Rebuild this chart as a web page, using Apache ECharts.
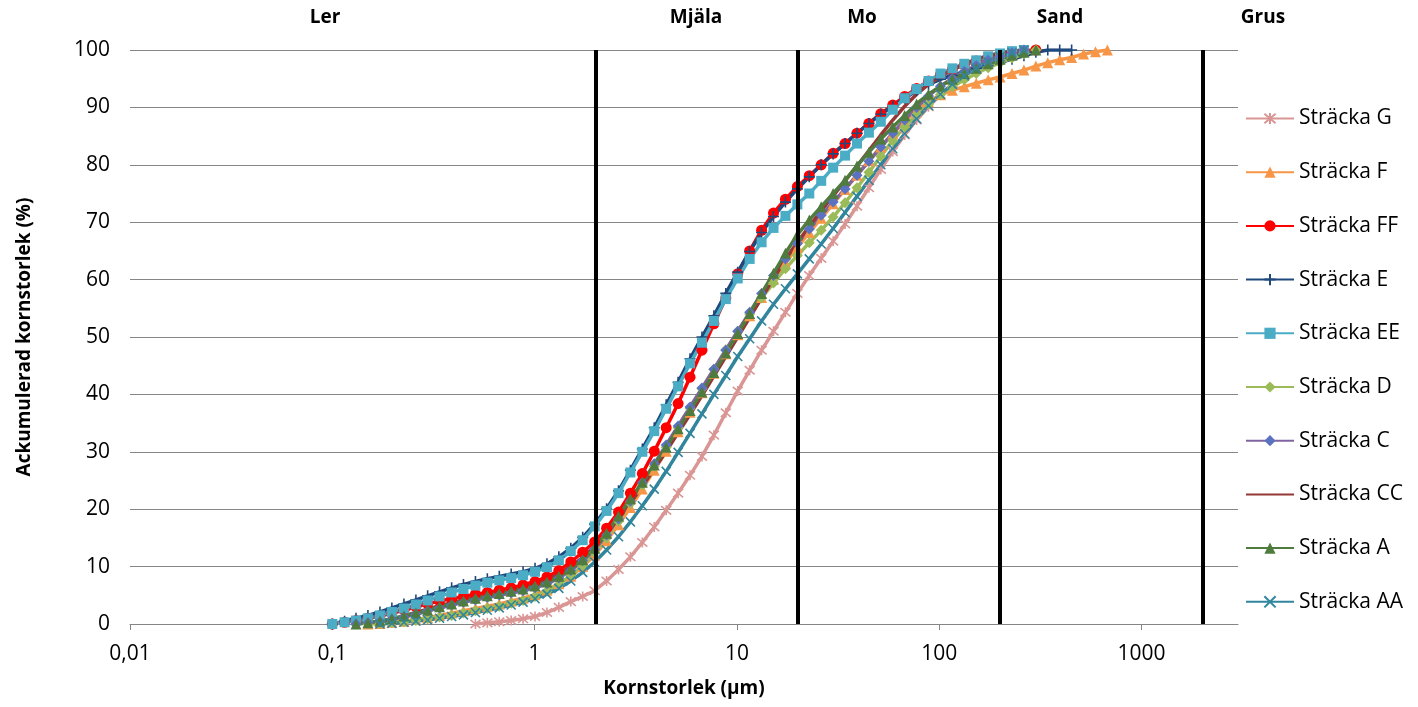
<head>
    <meta charset="utf-8">
    <script src="https://cdn.jsdelivr.net/npm/echarts@6/dist/echarts.min.js"></script>
    <style>
        body { margin: 0; background: #fff; }
        #main { width: 1418px; height: 707px; }
    </style>
</head>
<body>
<div id="main"></div>
<script>
    // kornstorlek (µm) for the instrument's size classes
    var sizes = [0.1, 0.115, 0.131, 0.15, 0.172, 0.197, 0.226, 0.259, 0.296, 0.339,
        0.389, 0.445, 0.51, 0.584, 0.669, 0.766, 0.877, 1.005, 1.151, 1.318,
        1.51, 1.729, 1.981, 2.269, 2.599, 2.976, 3.409, 3.905, 4.472, 5.122,
        5.867, 6.72, 7.697, 8.816, 10.097, 11.565, 13.246, 15.172, 17.377, 19.904,
        22.797, 26.111, 29.907, 34.255, 39.234, 44.938, 51.471, 58.953, 67.523, 77.339,
        88.583, 101.46, 116.21, 133.103, 152.453, 174.616, 200, 229.075, 262.376, 300.518,
        344.206, 394.244, 451.556, 517.2, 592.387, 678.504];

    // ackumulerad andel (%) per sträcka, from its first size class onwards
    var firstG = 12;
    var valG = [0, 0.2, 0.4, 0.6, 0.9, 1.3, 2.0, 2.9, 3.9, 4.8, 5.8, 7.5, 9.5, 11.7, 14.2, 16.9, 19.8, 22.8, 25.9, 29.2,
        32.9, 36.8, 40.6, 44.2, 47.7, 51.0, 54.3, 57.6, 60.7, 63.7, 66.7, 69.7, 72.8, 76.0, 79.2, 82.3, 85.2, 87.8, 90.1, 92.2,
        94.0, 95.5, 96.8, 97.9, 98.8, 99.5, 100];
    var firstF = 3;
    var valF = [0, 0.1, 0.3, 0.5, 0.8, 1.1, 1.5, 1.9, 2.3, 2.7, 3.1, 3.5, 4.0, 4.5, 5.1, 5.9, 7.0, 8.3, 10.0, 12.0,
        14.5, 17.3, 20.3, 23.5, 26.8, 30.1, 33.5, 36.9, 40.3, 43.7, 47.1, 50.4, 53.7, 56.9, 60.0, 62.9, 65.6, 68.2, 70.7, 73.2,
        75.7, 78.2, 80.7, 83.1, 85.4, 87.5, 89.5, 91.0, 92.2, 93.0, 93.6, 94.2, 94.8, 95.3, 95.9, 96.5, 97.2, 97.8, 98.3, 98.7,
        99.3, 99.7, 100];
    var firstFF = 0;
    var valFF = [0, 0.3, 0.6, 1.0, 1.4, 1.9, 2.4, 3.0, 3.5, 4.0, 4.4, 4.8, 5.2, 5.5, 5.9, 6.3, 6.8, 7.4, 8.2, 9.3,
        10.8, 12.5, 14.3, 16.7, 19.5, 22.8, 26.2, 30.1, 34.2, 38.4, 43.0, 47.7, 52.3, 56.8, 61.0, 65.0, 68.6, 71.6, 74.0, 76.2,
        78.1, 80.0, 82.0, 83.7, 85.5, 87.2, 88.9, 90.4, 91.9, 93.3, 94.6, 95.7, 96.6, 97.4, 98.1, 98.7, 99.2, 99.6, 99.9, 100];
    var firstE = 0;
    var valE = [0, 0.5, 1.0, 1.5, 2.1, 2.8, 3.5, 4.2, 4.9, 5.6, 6.3, 6.9, 7.4, 7.9, 8.3, 8.7, 9.1, 9.7, 10.5, 11.7,
        13.2, 15.1, 17.4, 20.1, 23.2, 26.8, 30.5, 34.2, 38.2, 42.1, 46.2, 50.0, 53.7, 57.6, 61.3, 64.9, 68.2, 71.0, 73.5, 75.8,
        77.9, 80.0, 81.9, 83.7, 85.5, 87.2, 88.8, 90.2, 91.6, 92.9, 94.0, 94.9, 95.6, 96.2, 96.8, 97.3, 97.8, 98.4, 99.0, 99.6,
        100, 100, 100];
    var firstEE = 0;
    var valEE = [0, 0.3, 0.6, 1.0, 1.5, 2.1, 2.7, 3.4, 4.1, 4.8, 5.5, 6.1, 6.7, 7.2, 7.6, 8.0, 8.5, 9.1, 9.9, 11.1,
        12.7, 14.6, 17.0, 19.7, 22.8, 26.4, 30.0, 33.6, 37.5, 41.4, 45.4, 49.0, 52.8, 56.6, 60.2, 63.6, 66.5, 69.0, 71.1, 73.1,
        75.0, 77.2, 79.5, 81.6, 83.7, 85.6, 87.5, 89.6, 91.6, 93.2, 94.6, 95.9, 96.8, 97.6, 98.2, 98.9, 99.4, 99.8, 100];
    var firstD = 3;
    var valD = [0, 0.1, 0.2, 0.4, 0.6, 0.9, 1.2, 1.5, 1.9, 2.3, 2.7, 3.1, 3.6, 4.1, 4.8, 5.7, 6.9, 8.4, 10.2, 12.4,
        15.0, 17.9, 21.0, 24.2, 27.5, 30.8, 34.2, 37.6, 41.0, 44.4, 47.8, 51.0, 54.0, 56.8, 59.4, 61.9, 64.2, 66.4, 68.6, 70.9,
        73.4, 76.0, 78.7, 81.5, 84.2, 86.6, 88.7, 90.6, 92.2, 93.6, 94.8, 95.9, 96.9, 97.8, 98.6, 99.3, 100];
    var firstC = 2;
    var valC = [0, 0.2, 0.4, 0.8, 1.2, 1.7, 2.3, 2.8, 3.3, 3.8, 4.2, 4.6, 5.0, 5.4, 5.8, 6.3, 7.0, 8.0, 9.3, 11.0,
        13.0, 15.5, 18.3, 21.4, 24.6, 27.9, 31.2, 34.5, 37.8, 41.1, 44.4, 47.7, 51.0, 54.3, 57.6, 60.7, 63.6, 66.3, 68.8, 71.2,
        73.5, 75.8, 78.2, 80.6, 83.1, 85.5, 87.8, 90.0, 92.0, 93.7, 95.1, 96.3, 97.3, 98.2, 98.9, 99.5, 100];
    var firstCC = 2;
    var valCC = [0, 0.2, 0.5, 0.9, 1.4, 2.0, 2.6, 3.2, 3.7, 4.2, 4.7, 5.1, 5.5, 5.9, 6.3, 6.9, 7.7, 8.7, 10.0, 11.6,
        13.5, 15.8, 18.3, 21.1, 24.0, 27.0, 30.1, 33.3, 36.5, 39.8, 43.2, 46.6, 50.0, 53.4, 56.8, 60.2, 63.5, 66.5, 69.3, 72.0,
        74.6, 77.2, 79.8, 82.5, 85.2, 87.8, 90.2, 92.3, 94.0, 95.4, 96.6, 97.6, 98.4, 99.0, 99.5, 99.8, 100];
    var firstA = 2;
    var valA = [0, 0.2, 0.5, 0.9, 1.4, 1.9, 2.4, 3.0, 3.5, 4.0, 4.5, 4.9, 5.3, 5.7, 6.1, 6.6, 7.3, 8.3, 9.6, 11.2,
        13.2, 15.8, 18.8, 21.8, 24.7, 27.7, 30.8, 34.0, 37.2, 40.4, 43.8, 47.2, 50.6, 54.1, 57.6, 61.1, 64.6, 67.8, 70.4, 72.7,
        75.0, 77.3, 79.8, 82.2, 84.5, 86.6, 88.6, 90.6, 92.3, 93.7, 94.9, 95.9, 96.8, 97.6, 98.4, 99.1, 99.6, 100];
    var firstAA = 4;
    var valAA = [0, 0.1, 0.3, 0.5, 0.7, 1.0, 1.3, 1.6, 2.0, 2.4, 2.8, 3.3, 3.8, 4.4, 5.2, 6.2, 7.5, 9.0, 10.8, 12.9,
        15.2, 17.8, 20.6, 23.5, 26.6, 29.9, 33.2, 36.6, 40.0, 43.3, 46.6, 49.7, 52.8, 55.7, 58.4, 61.0, 63.6, 66.2, 68.9, 71.7,
        74.5, 77.3, 80.0, 82.8, 85.4, 88.0, 90.3, 92.3, 94.0, 95.5, 96.8, 97.9, 98.8, 99.5, 100];

    // gränser mellan fraktionerna (µm)
    var classBounds = [2, 20, 200, 2000];
    var classNames = ['Ler', 'Mjäla', 'Mo', 'Sand', 'Grus'];

    var FONT = '"Open Sans", "DejaVu Sans", sans-serif';
    var plus = 'path://M5,0L5,10M0,5L10,5';
    var cross = 'path://M0,0L10,10M10,0L0,10';
    var star = 'path://M0,0L10,10M10,0L0,10M5,-1L5,11';

    function toPairs(first, values) {
        var out = [];
        for (var i = 0; i < values.length; i++) {
            out.push([sizes[first + i], values[i]]);
        }
        return out;
    }

    function makeSeries(name, first, values, color, symbol, size, markerColor, stroked) {
        var mc = markerColor || color;
        return {
            name: name,
            type: 'line',
            data: toPairs(first, values),
            symbol: symbol,
            symbolSize: size,
            showSymbol: size > 0,
            lineStyle: { color: color, width: 3.5 },
            itemStyle: {
                color: mc,
                borderColor: mc,
                borderWidth: stroked ? 1.6 : 0
            },
            emphasis: { disabled: true },
            animation: false
        };
    }

    var series = [
        {
            name: 'gränser',
            type: 'line',
            data: [],
            silent: true,
            markLine: {
                symbol: 'none',
                silent: true,
                label: { show: false },
                lineStyle: { color: '#000', width: 4, type: 'solid' },
                data: classBounds.map(function (b) { return { xAxis: b }; })
            }
        },
        makeSeries('Sträcka G', firstG, valG, '#D99694', star, 10, null, true),
        makeSeries('Sträcka F', firstF, valF, '#F79646', 'triangle', 11),
        makeSeries('Sträcka FF', firstFF, valFF, '#FF0000', 'circle', 11),
        makeSeries('Sträcka E', firstE, valE, '#1F497D', plus, 11, null, true),
        makeSeries('Sträcka EE', firstEE, valEE, '#4BACC6', 'rect', 10),
        makeSeries('Sträcka D', firstD, valD, '#9BBB59', 'diamond', 11),
        makeSeries('Sträcka C', firstC, valC, '#8064A2', 'diamond', 11, '#5B72C0'),
        makeSeries('Sträcka CC', firstCC, valCC, '#953735', 'circle', 0),
        makeSeries('Sträcka A', firstA, valA, '#4F7B3F', 'triangle', 11),
        makeSeries('Sträcka AA', firstAA, valAA, '#31859C', cross, 9, null, true)
    ];

    var topLabelX = [325, 696, 862, 1060, 1263];
    var graphics = classNames.map(function (t, i) {
        return {
            type: 'text',
            x: topLabelX[i],
            y: 18,
            style: {
                text: t,
                font: 'bold 19px ' + FONT,
                fill: '#000',
                textAlign: 'center',
                textVerticalAlign: 'middle'
            }
        };
    });

    var myChart = echarts.init(document.getElementById('main'));
    var option = {
        backgroundColor: '#fff',
        animation: false,
        textStyle: { fontFamily: FONT },
        grid: { left: 130, right: 180, top: 50, bottom: 83 },
        legend: {
            orient: 'vertical',
            left: 1240,
            top: 103,
            itemWidth: 48,
            itemHeight: 14,
            itemGap: 32.7,
            textStyle: { fontSize: 21, color: '#000', fontFamily: FONT },
            data: ['Sträcka G', 'Sträcka F', 'Sträcka FF', 'Sträcka E', 'Sträcka EE',
                'Sträcka D', 'Sträcka C',
                { name: 'Sträcka CC', itemStyle: { opacity: 0 } },
                'Sträcka A', 'Sträcka AA']
        },
        xAxis: {
            type: 'log',
            logBase: 10,
            min: 0.01,
            max: 3000,
            name: 'Kornstorlek (µm)',
            nameLocation: 'middle',
            nameGap: 55,
            nameTextStyle: { fontSize: 19, fontWeight: 'bold', color: '#000' },
            axisLine: { show: true, lineStyle: { color: '#868686', width: 1 } },
            axisTick: { show: true, length: 6, lineStyle: { color: '#868686' } },
            splitLine: { show: false },
            axisLabel: {
                fontSize: 21,
                color: '#000',
                margin: 20,
                showMaxLabel: false,
                formatter: function (v) {
                    var lg = Math.log(v) / Math.LN10;
                    if (Math.abs(lg - Math.round(lg)) > 1e-6) return '';
                    return String(Number(v.toPrecision(6))).replace('.', ',');
                }
            }
        },
        yAxis: {
            type: 'value',
            min: 0,
            max: 100,
            interval: 10,
            name: 'Ackumulerad kornstorlek (%)',
            nameLocation: 'middle',
            nameGap: 96,
            nameTextStyle: { fontSize: 19, fontWeight: 'bold', color: '#000' },
            axisLine: { show: false },
            axisTick: { show: false },
            splitLine: { lineStyle: { color: '#868686', width: 1 } },
            axisLabel: { fontSize: 21, color: '#000', margin: 20 }
        },
        graphic: graphics,
        series: series
    };
    myChart.setOption(option);
</script>
</body>
